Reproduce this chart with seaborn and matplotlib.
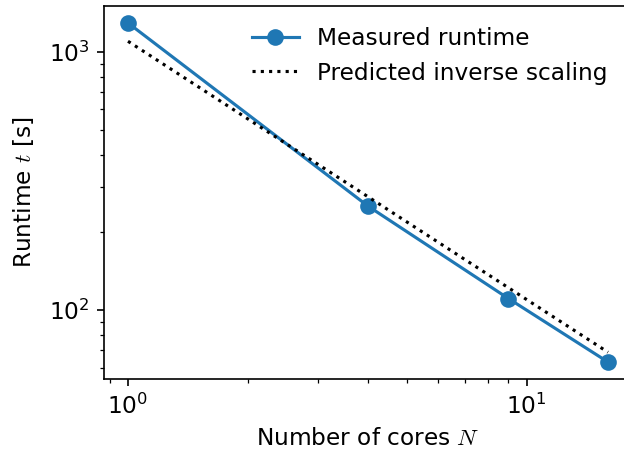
import matplotlib
matplotlib.use("Agg")
import matplotlib.pyplot as plt
import seaborn as sns

cores = [1, 4, 9, 16]
runtime = [1295, 253, 111, 63]
predicted = [1100, 275, 122.2, 68.75]

plt.rcParams["font.size"] = 11.2
plt.rcParams["mathtext.fontset"] = "cm"

fig = plt.figure(figsize=(4.16, 3.0067), dpi=150)
ax = fig.add_axes([104 / 624, 72 / 451, 528 / 624, 373 / 451])
ax.set_xscale("log")
ax.set_yscale("log")

sns.lineplot(x=cores, y=runtime, ax=ax, marker="o", markersize=8,
             color="#1f77b4", markeredgecolor="#1f77b4", markeredgewidth=0,
             linewidth=1.5, label="Measured runtime")
sns.lineplot(x=cores, y=predicted, ax=ax, color="black", linestyle=":",
             linewidth=1.5, label="Predicted inverse scaling")

ax.spines["right"].set_visible(False)
ax.set_xlabel("Number of cores $N$")
ax.set_ylabel("Runtime $t$ [s]", labelpad=6)
ax.legend(frameon=False, loc="upper right", bbox_to_anchor=(0.994, 1.0))

fig.savefig("out.png", dpi=150)
